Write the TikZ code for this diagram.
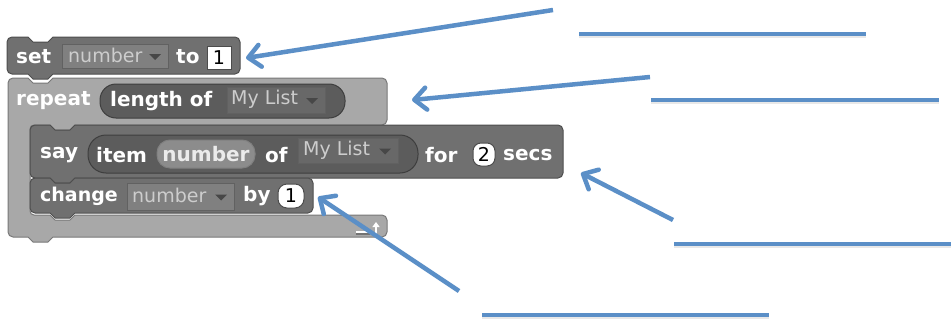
\documentclass[tikz,border=0pt]{standalone}
\usepackage{fontspec}
\setmainfont{DejaVu Sans}
\usetikzlibrary{arrows.meta}
\definecolor{arrowblue}{RGB}{91,143,199}
\definecolor{blk}{RGB}{112,112,112}
\definecolor{blkedge}{RGB}{78,78,78}
\definecolor{loopc}{RGB}{168,168,168}
\definecolor{loopedge}{RGB}{120,120,120}
\definecolor{rep}{RGB}{92,92,92}
\definecolor{repedge}{RGB}{62,62,62}
\definecolor{varc}{RGB}{140,140,140}
\definecolor{ddfill}{RGB}{128,128,128}
\definecolor{ddfilldark}{RGB}{104,104,104}
\definecolor{ddtext}{RGB}{205,205,205}
\tikzset{
  lbl/.style={font=\bfseries\fontsize{20}{20}\selectfont, text=white, inner sep=0pt, anchor=west},
  ddlbl/.style={font=\fontsize{19}{19}\selectfont, text=ddtext, inner sep=0pt, anchor=west},
  slotlbl/.style={font=\fontsize{19}{19}\selectfont, text=black, inner sep=0pt},
  note/.style={line width=4.5pt, draw=arrowblue},
  ptr/.style={note, -{Straight Barb[length=12pt,width=22pt,line join=round,line cap=round]}},
  lineshadow/.style={line width=4pt, draw=black!9},
  blockedge/.style={line width=1pt},
}
% command block: x0 y0 x1 y1 notchx fill edge
\newcommand\cmdblock[7]{%
  \draw[blockedge, fill=#6, draw=#7]
    (#1,{(#2+#4)/2}) [rounded corners=5pt] -- (#1,#2) [sharp corners] -- (#5,#2) -- (#5+5,#2+5) -- (#5+20,#2+5) -- (#5+25,#2)
    [rounded corners=5pt] -- (#3,#2) -- (#3,#4) [sharp corners] -- (#5+25,#4) -- (#5+20,#4+5) -- (#5+5,#4+5) -- (#5,#4)
    [rounded corners=5pt] -- (#1,#4) -- cycle;}
% dropdown slot: x0 y0 x1 y1 fill
\newcommand\ddslot[5]{%
  \draw[fill=#5, draw=black!62, line width=1pt] (#1,#2) rectangle (#3,#4);
  \fill[black!72] (#3-19,{(#2+#4)/2-2}) -- (#3-7,{(#2+#4)/2-2}) -- (#3-13,{(#2+#4)/2+4}) -- cycle;}
\begin{document}
\begin{tikzpicture}[x=1pt,y=-1pt]
\useasboundingbox (0,0) rectangle (951,324);
\fill[white] (0,0) rectangle (951,324);

% ---- repeat C-block ----
\draw[blockedge, fill=loopc, draw=loopedge]
  (8,150) [rounded corners=5pt] -- (8,78) [sharp corners] -- (28,78) -- (33,83) -- (48,83) -- (53,78)
  [rounded corners=5pt] -- (387,78) -- (387,125) [sharp corners] -- (75,125) -- (70,130) -- (55,130) -- (50,125)
  [rounded corners=4pt] -- (30,125) -- (30,215) [sharp corners] -- (50,215) -- (55,220) -- (70,220) -- (75,215)
  [rounded corners=5pt] -- (387,215) -- (387,237) [sharp corners] -- (53,237) -- (48,242) -- (33,242) -- (28,237)
  [rounded corners=5pt] -- (8,237) -- cycle;
% loop icon
\draw[white, line width=1.6pt] (356,232) -- (370,232);
\draw[black!55, line width=1.2pt] (356,234) -- (370,234);
\draw[white, line width=2pt, -{Triangle[length=5pt,width=7pt]}] (376,234) -- (376,222);

% ---- set block ----
\cmdblock{7}{37}{240}{74}{28}{blk}{blkedge}
\node[lbl] (tset) at (16,57) {set};
\ddslot{62}{44}{168}{68}{ddfill}
\node[ddlbl] (tsetvar) at (68,55) {number};
\node[lbl] (tto) at (176,57) {to};
\draw[fill=white, draw=black!70, line width=1pt] (207,46) rectangle (231,69);
\node[slotlbl] (tsetval) at (219,57.5) {1};

% repeat label and reporter
\node[lbl] (trepeat) at (16,101) {repeat};
\draw[fill=rep, draw=repedge, line width=1pt, rounded corners=16pt] (100,84) rectangle (345,118);
\node[lbl] (tlength) at (110,101) {length of};
\ddslot{227}{87}{325}{113}{ddfilldark}
\node[ddlbl] (tlist1) at (231,99) {My List};

% ---- say block ----
\cmdblock{30}{125}{563}{178}{50}{blk}{blkedge}
\node[lbl] (tsay) at (40,155) {say};
\draw[fill=rep, draw=repedge, line width=1pt, rounded corners=18pt] (88,135) rectangle (418,173);
\node[lbl] (titem) at (96,155) {item};
\draw[fill=varc, draw=black!50, line width=1pt, rounded corners=13pt] (157,140) rectangle (255,168);
\node[lbl, anchor=center, text=white!92!black] (tnum) at (206,154) {number};
\node[lbl] (tof) at (265,155) {of};
\ddslot{298}{138}{398}{163}{ddfilldark}
\node[ddlbl] (tlist2) at (303,150) {My List};
\node[lbl] (tfor) at (425,155) {for};
\draw[fill=white, draw=black!70, line width=1pt, rounded corners=8pt] (473,143) rectangle (495,166);
\node[slotlbl] (tsecs) at (484,154.5) {2};
\node[lbl] (tsecslbl) at (503,155) {secs};

% ---- change block ----
\cmdblock{30}{178}{313}{213}{50}{blk}{blkedge}
\node[lbl, font=\bfseries\fontsize{19}{19}\selectfont] (tchange) at (40,196) {change};
\ddslot{127}{183}{234}{210}{ddfill}
\node[ddlbl] (tchvar) at (132,195) {number};
\node[lbl] (tby) at (243,196) {by};
\draw[fill=white, draw=black!70, line width=1pt, rounded corners=9pt] (278,184) rectangle (304,208);
\node[slotlbl] (tchval) at (291,196) {1};

% ---- annotation lines ----
\coordinate (l1a) at (579,34);  \coordinate (l1b) at (866,34);
\coordinate (l2a) at (651,100); \coordinate (l2b) at (939,100);
\coordinate (l3a) at (674,244); \coordinate (l3b) at (951,244);
\coordinate (l4a) at (482,315); \coordinate (l4b) at (769,315);
\foreach \a/\b in {l1a/l1b,l2a/l2b,l3a/l3b,l4a/l4b}{
  \draw[lineshadow] ([yshift=-2pt]\a) -- ([yshift=-2pt]\b);
  \draw[note] (\a) -- (\b);
}

% ---- arrows ----
\coordinate (a1s) at (553,10);  \coordinate (a1e) at (246,58);
\coordinate (a2s) at (650,77);  \coordinate (a2e) at (412,100);
\coordinate (a3s) at (673,220); \coordinate (a3e) at (581,173);
\coordinate (a4s) at (459,291); \coordinate (a4e) at (318,197);
\draw[ptr] (a1s) -- (a1e);
\draw[ptr] (a2s) -- (a2e);
\draw[ptr] (a3s) -- (a3e);
\draw[ptr] (a4s) -- (a4e);
\end{tikzpicture}
\end{document}
